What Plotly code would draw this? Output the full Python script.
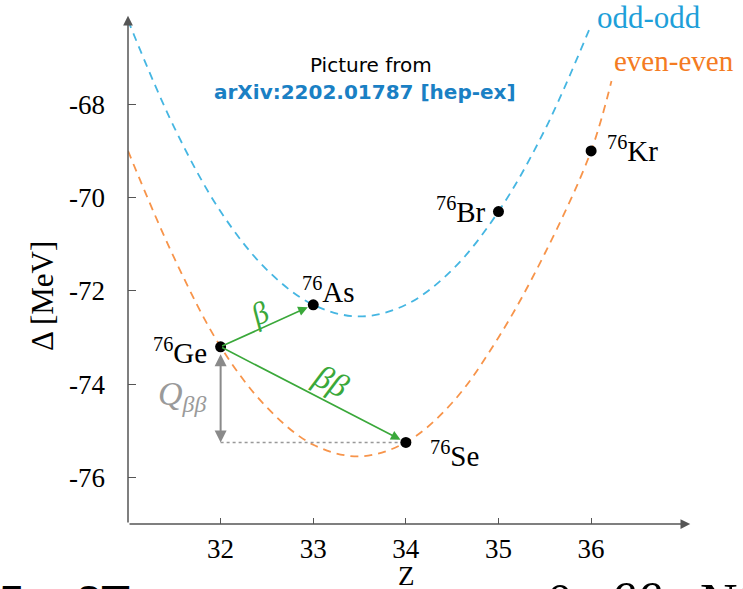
import plotly.graph_objects as go

# ---------------- data ----------------
nuclide_z = [32, 33, 34, 35, 36]
nuclide_delta = [-73.2, -72.3, -75.25, -70.3, -69.0]
nuclide_names = ["Ge", "As", "Se", "Br", "Kr"]
mass_number = "76"

odd_z = [31.0, 31.5, 32.0, 32.5, 33.0, 33.5, 34.0, 34.5, 35.0, 35.5, 36.0]
odd_delta = [-66.2, -68.5, -70.3, -71.55, -72.3, -72.55, -72.3, -71.55, -70.3, -68.55, -66.3]

even_z = [31.0, 31.5, 32.0, 32.5, 33.0, 33.5, 34.0, 34.5, 35.0, 35.5, 36.0, 36.22]
even_delta = [-69.0, -71.3, -73.2, -74.5, -75.3, -75.55, -75.25, -74.4, -73.0, -71.2, -69.0, -67.5]

x_ticks = [32, 33, 34, 35, 36]
y_ticks = [-76, -74, -72, -70, -68]

# ---------------- layout constants ----------------
W, H = 743, 589
L, R, T, B = 128, 50, 11, 65
XR = [31, 37.1]
YR = [-77, -66]
PW, PH = W - L - R, H - T - B

def px(xp):
    return (xp - L) / PW

def py(yp):
    return 1 - (yp - T) / PH

BLUE = "#45b6e2"
ORANGE = "#f7944a"
GREEN = "#3aa83a"
GRAY = "#8a8a8a"
SERIF = "Liberation Serif"
NB = "\u00a0"

fig = go.Figure()

fig.add_trace(go.Scatter(x=odd_z, y=odd_delta, mode="lines", line_shape="spline",
                         line=dict(color=BLUE, width=1.8, dash="8px,6px"),
                         hoverinfo="skip", showlegend=False))
fig.add_trace(go.Scatter(x=even_z, y=even_delta, mode="lines", line_shape="spline",
                         line=dict(color=ORANGE, width=1.8, dash="8px,6px"),
                         hoverinfo="skip", showlegend=False))

# Q-value dotted reference line (Se level, from Ge to Se)
fig.add_trace(go.Scatter(x=[nuclide_z[0], nuclide_z[2]], y=[nuclide_delta[2], nuclide_delta[2]],
                         mode="lines", line=dict(color="#999999", width=1.5, dash="dot"),
                         hoverinfo="skip", showlegend=False))

fig.add_trace(go.Scatter(x=nuclide_z, y=nuclide_delta, mode="markers",
                         marker=dict(color="black", size=11),
                         hoverinfo="skip", showlegend=False))

ann = []

def ptext(xp, yp, text, font, angle=0, xa="center", ya="middle"):
    ann.append(dict(x=px(xp), y=py(yp), xref="paper", yref="paper", showarrow=False,
                    xanchor=xa, yanchor=ya, text=text, textangle=angle, font=font))

# axis arrows
ann.append(dict(x=37.07, y=-77, ax=31, ay=-77, xref="x", yref="y", axref="x", ayref="y",
                text="", showarrow=True, arrowhead=2, arrowsize=1.3, arrowwidth=1.5,
                arrowcolor="#555555"))
ann.append(dict(x=31, y=-66.1, ax=31, ay=-77, xref="x", yref="y", axref="x", ayref="y",
                text="", showarrow=True, arrowhead=2, arrowsize=1.3, arrowwidth=1.5,
                arrowcolor="#555555"))

# nuclide labels
label_pos = {
    "Ge": dict(xanchor="right", yanchor="middle", xshift=-12, yshift=-4),
    "As": dict(xanchor="left", yanchor="middle", xshift=-13, yshift=15),
    "Se": dict(xanchor="left", yanchor="middle", xshift=22, yshift=-12),
    "Br": dict(xanchor="right", yanchor="middle", xshift=-10, yshift=2),
    "Kr": dict(xanchor="left", yanchor="middle", xshift=14, yshift=2),
}
for zz, dd, nm in zip(nuclide_z, nuclide_delta, nuclide_names):
    ann.append(dict(x=zz, y=dd, xref="x", yref="y", showarrow=False,
                    text=f"<sup>{mass_number}</sup>{nm}",
                    font=dict(family=SERIF, size=29, color="black"), **label_pos[nm]))

# beta arrows
ann.append(dict(x=nuclide_z[1], y=nuclide_delta[1], ax=nuclide_z[0], ay=nuclide_delta[0],
                xref="x", yref="y", axref="x", ayref="y", text="", showarrow=True,
                arrowhead=2, arrowsize=1.2, arrowwidth=1.6, arrowcolor=GREEN, standoff=6))
ann.append(dict(x=nuclide_z[2], y=nuclide_delta[2], ax=nuclide_z[0], ay=nuclide_delta[0],
                xref="x", yref="y", axref="x", ayref="y", text="", showarrow=True,
                arrowhead=2, arrowsize=1.2, arrowwidth=1.6, arrowcolor=GREEN, standoff=6))
# Q double arrow
ann.append(dict(x=nuclide_z[0], y=nuclide_delta[2], ax=nuclide_z[0], ay=nuclide_delta[0],
                xref="x", yref="y", axref="x", ayref="y", text="", showarrow=True,
                arrowhead=2, startarrowhead=2, arrowside="end+start", arrowsize=1.2,
                arrowwidth=2, arrowcolor=GRAY, startstandoff=6))

ptext(259, 313, "<i>β</i>", dict(family=SERIF, size=31, color=GREEN), angle=-25)
ptext(331, 381, "<i>ββ</i>", dict(family=SERIF, size=33, color=GREEN), angle=27)
ptext(182, 396, "<i>Q</i><sub><i>ββ</i></sub>", dict(family=SERIF, size=34, color="#9a9a9a"))

# series labels
ptext(595, 18, "odd-odd", dict(family=SERIF, size=31, color="#1e9fd9"), xa="left")
ptext(612, 61, "even-even", dict(family=SERIF, size=29, color="#f47b22"), xa="left")

# credit text
ptext(371, 65, "Picture from", dict(family="DejaVu Sans", size=20, color="black"))
ptext(365, 92, "<b>arXiv:2202.01787 [hep-ex]</b>", dict(family="DejaVu Sans", size=20, color="#1a80c4"))

# axis titles
ptext(42, 296, "Δ [MeV]", dict(family=SERIF, size=31, color="black"), angle=-90)
ptext(406, 576, "Z", dict(family=SERIF, size=27, color="black"))

# cut-off slide text at bottom edge
ptext(-3, 574, "5", dict(family="Liberation Sans", size=46, color="black"), xa="left", ya="top")
ptext(74, 574, "<b>2T</b>", dict(family="Liberation Sans", size=46, color="black"), xa="left", ya="top")
ptext(545, 572, f"0{NB}<i>νββ</i>{NB}{NB}{NB}N0", dict(family=SERIF, size=52, color="black"),
      xa="left", ya="top")

tick_font = dict(family="Liberation Serif", size=27, color="black")

fig.update_layout(
    width=W, height=H, margin=dict(l=L, r=R, t=T, b=B),
    plot_bgcolor="white", paper_bgcolor="white",
    font=dict(family=SERIF, color="black"),
    annotations=ann,
    xaxis=dict(range=XR, tickmode="array", tickvals=x_ticks, ticktext=[str(v) for v in x_ticks],
               showgrid=False, zeroline=False, showline=False,
               ticks="inside", ticklen=6, tickwidth=1.2, tickcolor="#555555",
               tickfont=tick_font, ticklabelstandoff=6),
    yaxis=dict(range=YR, tickmode="array", tickvals=y_ticks, ticktext=[str(v) for v in y_ticks],
               showgrid=False, zeroline=False, showline=False,
               ticks="inside", ticklen=8, tickwidth=1.2, tickcolor="#555555",
               tickfont=tick_font, ticklabelstandoff=22),
)

fig.write_html("out.html")
